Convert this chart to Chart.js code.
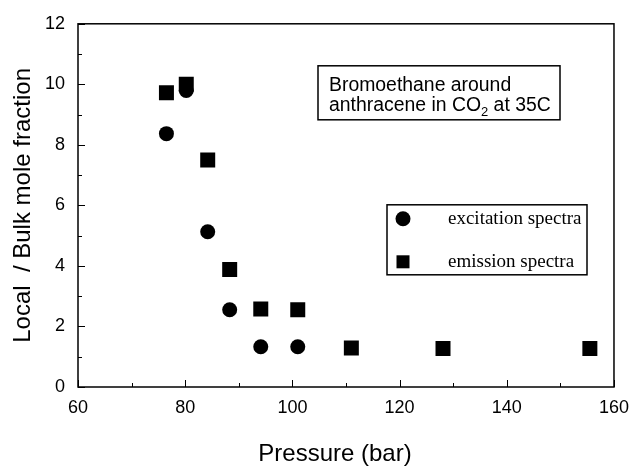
<!DOCTYPE html>
<html>
<head>
<meta charset="utf-8">
<script src="https://cdn.jsdelivr.net/npm/chart.js@4/dist/chart.umd.min.js"></script>
<style>
  html, body { margin: 0; padding: 0; background: #fff; }
  #wrap { width: 639px; height: 466px; position: relative; }
</style>
</head>
<body>
<div id="wrap"><canvas id="c" width="639" height="466"></canvas></div>
<script>
// ---- data ----
const excitationPressure = [76.5, 80.2, 84.2, 88.3, 94.1, 101.0];
const excitationRatio    = [8.37, 9.80, 5.13, 2.55, 1.33, 1.33];
const emissionPressure   = [76.5, 80.2, 84.2, 88.3, 94.1, 101.0, 111.0, 128.1, 155.5];
const emissionRatio      = [9.72, 10.0, 7.50, 3.88, 2.58, 2.55, 1.29, 1.27, 1.27];
const xTickLabels = [60, 80, 100, 120, 140, 160];
const yTickLabels = [0, 2, 4, 6, 8, 10, 12];
const seriesNames = ['excitation spectra', 'emission spectra'];
const annotationLines = ['Bromoethane around', 'anthracene in CO', '2', ' at 35C'];
const xTitle = 'Pressure (bar)';
const yTitle = 'Local  / Bulk mole fraction';

const toPoints = (xs, ys) => xs.map((x, i) => ({ x: x, y: ys[i] }));

const SANS = 'Arial, "Liberation Sans", Helvetica, sans-serif';
const SERIF = '"Times New Roman", "Liberation Serif", serif';

const framePlugin = {
  id: 'frameTicks',
  afterDatasetsDraw(chart) {
    const ctx = chart.ctx;
    const a = chart.chartArea;
    const xs = chart.scales.x, ys = chart.scales.y;
    ctx.save();
    ctx.strokeStyle = '#000';
    ctx.lineWidth = 1.5;
    ctx.strokeRect(a.left, a.top, a.right - a.left, a.bottom - a.top);
    ctx.lineWidth = 1;
    ctx.beginPath();
    for (let v = xs.min; v <= xs.max + 1e-9; v += 10) {
      const px = Math.round(xs.getPixelForValue(v)) + 0.5;
      const len = (Math.round(v) % 20 === 0) ? 7 : 4;
      ctx.moveTo(px, a.bottom);
      ctx.lineTo(px, a.bottom - len);
    }
    for (let v = ys.min; v <= ys.max + 1e-9; v += 1) {
      const py = Math.round(ys.getPixelForValue(v)) + 0.5;
      const len = (Math.round(v) % 2 === 0) ? 7 : 4;
      ctx.moveTo(a.left, py);
      ctx.lineTo(a.left + len, py);
    }
    ctx.stroke();
    ctx.restore();
  },
  afterDraw(chart) {
    const ctx = chart.ctx;
    const a = chart.chartArea;
    ctx.save();
    // x axis title
    ctx.fillStyle = '#000';
    ctx.font = '24px ' + SANS;
    ctx.textAlign = 'center';
    ctx.textBaseline = 'alphabetic';
    ctx.fillText(xTitle, a.left + 257, chart.height - 5);

    // annotation box
    const bx = a.left + 240, by = a.top + 42, bw = 242, bh = 54;
    ctx.fillStyle = '#fff';
    ctx.fillRect(bx, by, bw, bh);
    ctx.strokeStyle = '#000';
    ctx.lineWidth = 1.5;
    ctx.strokeRect(bx, by, bw, bh);
    ctx.fillStyle = '#000';
    ctx.textAlign = 'left';
    ctx.font = '19.4px ' + SANS;
    const tx = bx + 11;
    ctx.fillText(annotationLines[0], tx, by + 25);
    let x2 = tx;
    ctx.fillText(annotationLines[1], x2, by + 45);
    x2 += ctx.measureText(annotationLines[1]).width;
    ctx.font = '13px ' + SANS;
    ctx.fillText(annotationLines[2], x2, by + 50);
    x2 += ctx.measureText(annotationLines[2]).width;
    ctx.font = '19.4px ' + SANS;
    ctx.fillText(annotationLines[3], x2, by + 45);

    // legend box
    const lx = a.left + 309, ly = a.top + 181, lw = 200, lh = 70;
    ctx.fillStyle = '#fff';
    ctx.fillRect(lx, ly, lw, lh);
    ctx.strokeStyle = '#000';
    ctx.lineWidth = 1.5;
    ctx.strokeRect(lx, ly, lw, lh);
    ctx.fillStyle = '#000';
    ctx.beginPath();
    ctx.arc(lx + 16, ly + 14, 7.5, 0, Math.PI * 2);
    ctx.fill();
    ctx.fillRect(lx + 9.5, ly + 50.5, 13, 13);
    ctx.font = '19px ' + SERIF;
    ctx.textBaseline = 'alphabetic';
    ctx.fillText(seriesNames[0], lx + 61, ly + 19.5);
    ctx.fillText(seriesNames[1], lx + 61, ly + 62.5);
    ctx.restore();
  }
};

new Chart(document.getElementById('c'), {
  type: 'scatter',
  data: {
    datasets: [
      {
        label: seriesNames[1],
        data: toPoints(emissionPressure, emissionRatio),
        pointStyle: 'rect',
        pointRadius: 10.6,
        pointHoverRadius: 10.6,
        backgroundColor: '#000',
        borderColor: '#000',
        borderWidth: 0
      },
      {
        label: seriesNames[0],
        data: toPoints(excitationPressure, excitationRatio),
        pointStyle: 'circle',
        pointRadius: 7.5,
        pointHoverRadius: 7.5,
        backgroundColor: '#000',
        borderColor: '#000',
        borderWidth: 0
      }
    ]
  },
  options: {
    responsive: false,
    animation: false,
    events: [],
    layout: { padding: { left: 0, top: 20, right: 18, bottom: 0 } },
    plugins: { legend: { display: false }, tooltip: { enabled: false } },
    scales: {
      x: {
        type: 'linear',
        min: 60, max: 160,
        afterBuildTicks: (s) => { s.ticks = xTickLabels.map(v => ({ value: v })); },
        afterFit: (s) => { s.height = 79; },
        grid: { display: false, drawTicks: false },
        border: { display: false },
        ticks: { color: '#000', font: { family: SANS, size: 18 }, padding: 10, maxRotation: 0 },
        title: { display: false }
      },
      y: {
        type: 'linear',
        min: 0, max: 12,
        afterBuildTicks: (s) => { s.ticks = yTickLabels.map(v => ({ value: v })); },
        afterFit: (s) => { s.width = 78; },
        grid: { display: false, drawTicks: false },
        border: { display: false },
        ticks: { color: '#000', font: { family: SANS, size: 18 }, padding: 13 },
        title: { display: true, text: yTitle, color: '#000', font: { family: SANS, size: 24 }, padding: { top: 9, bottom: 0 } }
      }
    }
  },
  plugins: [framePlugin]
});
</script>
</body>
</html>
